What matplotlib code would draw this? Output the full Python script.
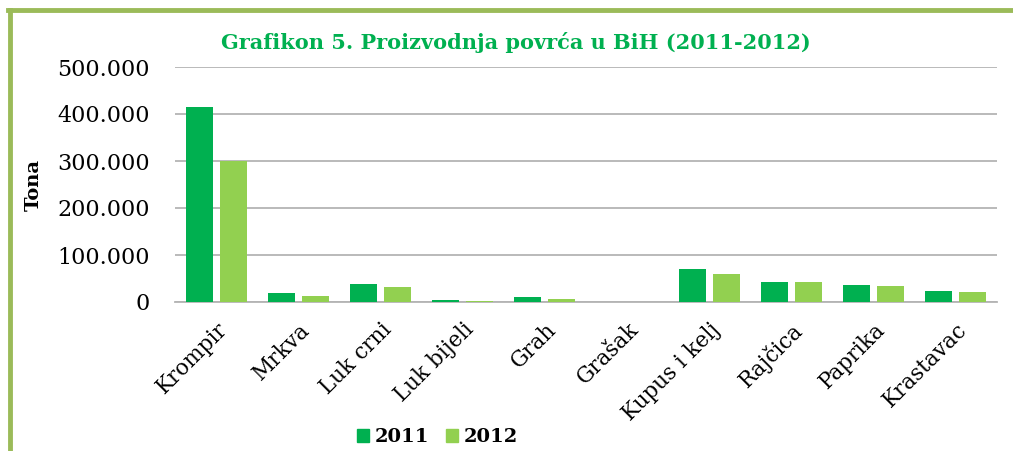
import matplotlib.pyplot as plt
import matplotlib.patches as mpatches
import matplotlib.lines as mlines
import numpy as np

# Data (tonnes)
categories = ['Krompir', 'Mrkva', 'Luk crni', 'Luk bijeli', 'Grah',
              'Grašak', 'Kupus i kelj', 'Rajčica', 'Paprika', 'Krastavac']
values_2011 = [414000, 20000, 39000, 3600, 10000, 500, 70000, 43500, 37000, 24000]
values_2012 = [300000, 12000, 31000, 3000, 7000, 400, 60500, 43000, 34000, 21500]
yticks = [0, 100000, 200000, 300000, 400000, 500000]
ytick_labels = ['0', '100.000', '200.000', '300.000', '400.000', '500.000']

color_2011 = '#00B050'
color_2012 = '#92D050'
frame_color = '#9BBB59'

plt.rcParams['font.family'] = 'DejaVu Serif'

fig = plt.figure(figsize=(10.13, 4.51), dpi=100)
ax = fig.add_axes([175 / 1013, 1 - 302 / 451, (997 - 175) / 1013, (302 - 67) / 451])

x = np.arange(len(categories))
width = 0.33
ax.bar(x - 0.207, values_2011, width, color=color_2011, label='2011', zorder=3)
ax.bar(x + 0.207, values_2012, width, color=color_2012, label='2012', zorder=3)

ax.set_xlim(-0.5, len(categories) - 0.5)
ax.set_ylim(0, 500000)
ax.set_yticks(yticks)
ax.set_yticklabels(ytick_labels, fontsize=16)
ax.yaxis.grid(True, color='#B4B4B4', linewidth=1.3, zorder=0)
ax.set_axisbelow(True)
for side in ['top', 'right', 'left']:
    ax.spines[side].set_visible(False)
ax.spines['bottom'].set_color('#B4B4B4')
ax.spines['bottom'].set_linewidth(1.3)
ax.tick_params(axis='both', length=0)
ax.tick_params(axis='y', pad=18)

ax.set_xticks(x)
ax.set_xticklabels(categories, fontsize=15.5, rotation=45, ha='right',
                   rotation_mode='anchor')
ax.tick_params(axis='x', pad=12)

fig.text(0.033, 0.59, 'Tona', rotation=90, fontsize=14, fontweight='bold',
         ha='center', va='center')

fig.text(0.509, 0.905, 'Grafikon 5. Proizvodnja povrća u BiH (2011-2012)',
         fontsize=15, fontweight='bold', color=color_2011, ha='center', va='center')

# Legend
handles = [mpatches.Patch(color=color_2011, label='2011'),
           mpatches.Patch(color=color_2012, label='2012')]
fig.legend(handles=handles, loc='center', bbox_to_anchor=(0.432, 0.03),
           ncol=2, frameon=False, prop={'size': 14, 'weight': 'bold'},
           handlelength=0.6, handleheight=0.6, handletextpad=0.3, columnspacing=0.9)

# Green frame: left and top edges
fig.add_artist(mlines.Line2D([9.5 / 1013, 9.5 / 1013], [0, 1 - 10 / 451],
                             color=frame_color, linewidth=3.5, transform=fig.transFigure))
fig.add_artist(mlines.Line2D([8 / 1013, 1], [1 - 10 / 451, 1 - 10 / 451],
                             color=frame_color, linewidth=3.5, transform=fig.transFigure))

fig.savefig('out.png', dpi=100)
